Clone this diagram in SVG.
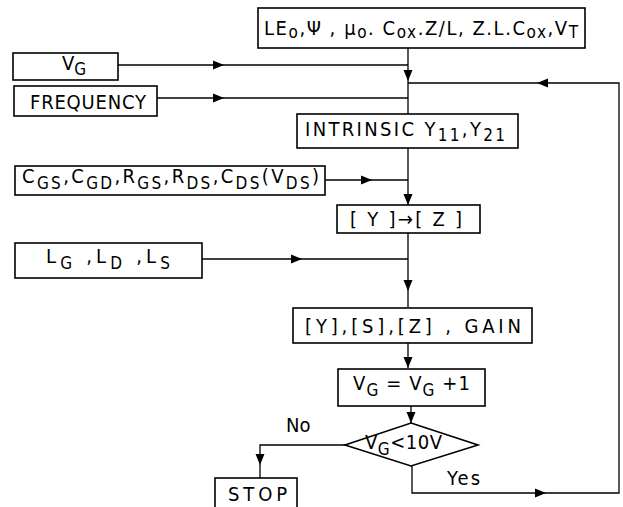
<svg xmlns="http://www.w3.org/2000/svg" xmlns:xlink="http://www.w3.org/1999/xlink" width="623" height="507" viewBox="0 0 623 507">
<style>
.box{fill:#fff;stroke:#000;stroke-width:1.6}
.ln{fill:none;stroke:#000;stroke-width:1.3}
text{font-family:"DejaVu Sans Condensed","DejaVu Sans","Liberation Sans",sans-serif;font-size:20px;fill:#000}
.s{font-size:17px}
</style>
<defs>
<path id="ah" d="M0,0 L-11,-4.5 L-11,4.5 Z" fill="#000"/>
</defs>
<rect width="623" height="507" fill="#fff"/>
<g id="connectors">
<path class="ln" d="M408,48 V307"/>
<path class="ln" d="M118,65 H408"/>
<path class="ln" d="M157,98 H408"/>
<path class="ln" d="M325,180 H408"/>
<path class="ln" d="M202,259 H408"/>
<path class="ln" d="M408,343 V368"/>
<path class="ln" d="M411,406 V423"/>
<path class="ln" d="M345,445 H260 V478"/>
<path class="ln" d="M412,466 V493 H619 V83 H408"/>
<use xlink:href="#ah" transform="translate(224,65)"/>
<use xlink:href="#ah" transform="translate(224,98)"/>
<use xlink:href="#ah" transform="translate(372,180)"/>
<use xlink:href="#ah" transform="translate(302,259)"/>
<use xlink:href="#ah" transform="translate(408,81) rotate(90)"/>
<use xlink:href="#ah" transform="translate(408,205) rotate(90)"/>
<use xlink:href="#ah" transform="translate(408,291) rotate(90)"/>
<use xlink:href="#ah" transform="translate(408,368) rotate(90)"/>
<use xlink:href="#ah" transform="translate(411,423) rotate(90)"/>
<use xlink:href="#ah" transform="translate(260,465) rotate(90)"/>
<use xlink:href="#ah" transform="translate(537,83) rotate(180)"/>
<use xlink:href="#ah" transform="translate(546,493)"/>
</g>
<g id="params">
<rect class="box" x="258" y="8" width="327" height="40"/>
<text x="264" y="35" textLength="314" lengthAdjust="spacing">LE<tspan class="s" dy="3">o</tspan><tspan dy="-3">,Ψ , μ</tspan><tspan class="s" dy="3">o</tspan><tspan dy="-3">. C</tspan><tspan class="s" dy="3">ox</tspan><tspan dy="-3">.Z/L, Z.L.C</tspan><tspan class="s" dy="3">ox</tspan><tspan dy="-3">,V</tspan><tspan class="s" dy="3">T</tspan></text>
</g>
<g id="vg">
<rect class="box" x="13" y="53" width="105" height="27"/>
<text x="62" y="70">V<tspan class="s" dy="5">G</tspan></text>
</g>
<g id="frequency">
<rect class="box" x="14" y="86" width="143" height="30"/>
<text x="30" y="109" textLength="116" lengthAdjust="spacing">FREQUENCY</text>
</g>
<g id="intrinsic">
<rect class="box" x="297" y="114" width="221" height="34"/>
<text x="305" y="136" textLength="200" lengthAdjust="spacing">INTRINSIC  Y<tspan class="s" dy="5">11</tspan><tspan dy="-5">,Y</tspan><tspan class="s" dy="5">21</tspan></text>
</g>
<g id="parasitics">
<rect class="box" x="15" y="166" width="310" height="29"/>
<text x="22" y="183" textLength="297" lengthAdjust="spacing">C<tspan class="s" dy="6">GS</tspan><tspan dy="-6">,C</tspan><tspan class="s" dy="6">GD</tspan><tspan dy="-6">,R</tspan><tspan class="s" dy="6">GS</tspan><tspan dy="-6">,R</tspan><tspan class="s" dy="6">DS</tspan><tspan dy="-6">,C</tspan><tspan class="s" dy="6">DS</tspan><tspan dy="-6">(V</tspan><tspan class="s" dy="6">DS</tspan><tspan dy="-6">)</tspan></text>
</g>
<g id="yz">
<rect class="box" x="337" y="205" width="143" height="28"/>
<text x="350" y="226" textLength="112" lengthAdjust="spacing">[ Y ]→[ Z ]</text>
</g>
<g id="inductances">
<rect class="box" x="15" y="243" width="187" height="35"/>
<text x="46" y="263" textLength="124" lengthAdjust="spacing">L<tspan class="s" dy="6">G</tspan><tspan dy="-6"> ,L</tspan><tspan class="s" dy="6">D</tspan><tspan dy="-6"> ,L</tspan><tspan class="s" dy="6">S</tspan></text>
</g>
<g id="outputs">
<rect class="box" x="293" y="308" width="239" height="35"/>
<text x="305" y="333" textLength="216" lengthAdjust="spacing">[Y],[S],[Z] , GAIN</text>
</g>
<g id="increment">
<rect class="box" x="338" y="369" width="147" height="37"/>
<text x="353" y="390" textLength="117" lengthAdjust="spacing">V<tspan class="s" dy="6">G</tspan><tspan dy="-6"> = V</tspan><tspan class="s" dy="6">G</tspan><tspan dy="-6"> +1</tspan></text>
</g>
<g id="decision">
<path class="box" d="M411,423 L478,445 L411,466 L345,445 Z"/>
<text x="365" y="449" textLength="77" lengthAdjust="spacing">V<tspan class="s" dy="6">G</tspan><tspan dy="-6">&lt;10V</tspan></text>
<text x="286" y="432">No</text>
<text x="447" y="485" textLength="33" lengthAdjust="spacing">Yes</text>
</g>
<g id="stop">
<rect class="box" x="215" y="478" width="82" height="34"/>
<text x="228" y="501" textLength="59" lengthAdjust="spacing">STOP</text>
</g>
</svg>
